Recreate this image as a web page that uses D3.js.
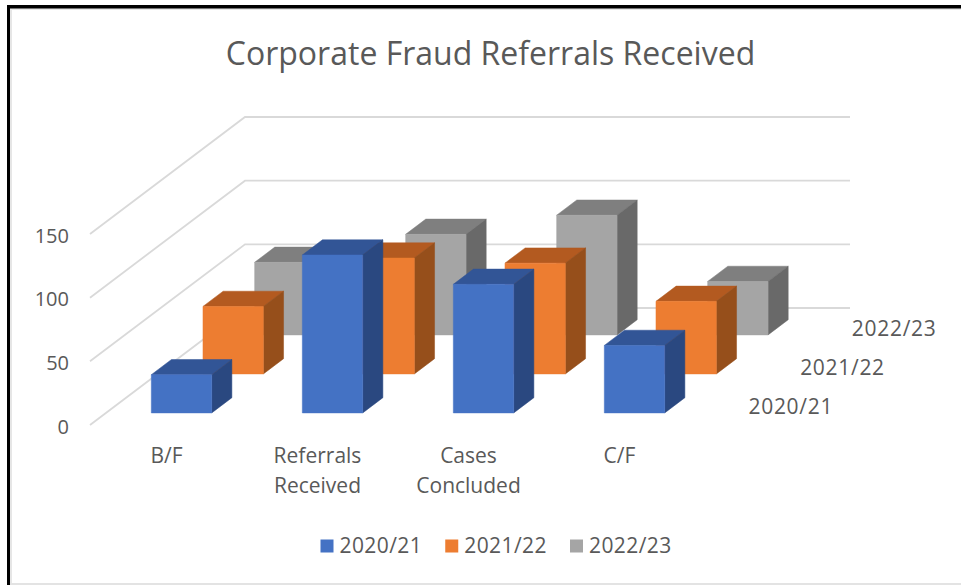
<!DOCTYPE html>
<html>
<head>
<meta charset="utf-8">
<script src="https://cdn.jsdelivr.net/npm/d3@7"></script>
<style>
  html, body { margin: 0; padding: 0; background: #fff; }
  svg { display: block; }
  text { font-family: "Open Sans", sans-serif; fill: #595959; }
</style>
</head>
<body>
<div id="chart"></div>
<script>
const categories = ["B/F", "Referrals Received", "Cases Concluded", "C/F"];
const seriesNames = ["2020/21", "2021/22", "2022/23"];
const values2021 = [30, 124, 101, 53];
const values2122 = [53, 91, 87, 57];
const values2223 = [57, 79, 94, 42];
const yTicks = [0, 50, 100, 150];
const frontColors = ["#4472C4", "#ED7D31", "#A5A5A5"];
const topColors = ["#325596", "#B35A20", "#7F7F7F"];
const sideColors = ["#2A4880", "#964F1B", "#696969"];

const allValues = [values2021, values2122, values2223];

const width = 961;
const height = 585;

const svg = d3
  .select("#chart")
  .append("svg")
  .attr("width", width)
  .attr("height", height);

// Frame of the screenshot
svg.append("rect").attr("x", 10).attr("y", 8).attr("width", 951).attr("height", 2).attr("fill", "#e6e6e6");
svg.append("rect").attr("x", 10).attr("y", 8).attr("width", 2).attr("height", 577).attr("fill", "#e6e6e6");
svg.append("rect").attr("x", 10).attr("y", 583).attr("width", 951).attr("height", 2).attr("fill", "#e3e3e3");
svg.append("rect").attr("x", 7).attr("y", 5).attr("width", 954).attr("height", 3.5).attr("fill", "#000");
svg.append("rect").attr("x", 7).attr("y", 5).attr("width", 3).attr("height", 580).attr("fill", "#000");

// Oblique projection: floor origin, across, depth and value directions
const originX = 90;
const originY = 425;

const x = d3.scaleBand().domain(categories).range([0, 604]).paddingInner(0.6).paddingOuter(0.3);
const y = d3.scaleLinear().domain([0, 150]).range([0, 191]);
const depthX = d3.scaleLinear().domain([0, 3]).range([0, 155]);
const depthY = d3.scaleLinear().domain([0, 3]).range([0, 117]);

const barDepth = 0.39;
const depthStart = 0.31;

function project(across, depth, value) {
  return [
    originX + across + depthX(depth),
    originY - depthY(depth) - y(value),
  ];
}

const line = d3.line();

// Gridlines: side wall then back wall
svg
  .append("g")
  .selectAll("path")
  .data(yTicks)
  .enter()
  .append("path")
  .attr("d", (d) =>
    line([project(0, 0, d), project(0, 3, d), project(605, 3, d)])
  )
  .attr("fill", "none")
  .attr("stroke", "#D9D9D9")
  .attr("stroke-width", 1.8);

// Bars, painted from the back series to the front one
const bars = svg.append("g");
d3.range(seriesNames.length - 1, -1, -1).forEach((s) => {
  categories.forEach((cat, c) => {
    const v = allValues[s][c];
    const x0 = x(cat);
    const x1 = x0 + x.bandwidth();
    const z0 = s + depthStart;
    const z1 = z0 + barDepth;
    const g = bars.append("g");
    g.append("path")
      .attr("d", line([project(x0, z0, v), project(x1, z0, v), project(x1, z1, v), project(x0, z1, v)]) + "Z")
      .attr("fill", topColors[s])
      .attr("stroke", topColors[s])
      .attr("stroke-width", 0.5);
    g.append("path")
      .attr("d", line([project(x1, z0, 0), project(x1, z1, 0), project(x1, z1, v), project(x1, z0, v)]) + "Z")
      .attr("fill", sideColors[s])
      .attr("stroke", sideColors[s])
      .attr("stroke-width", 0.5);
    g.append("path")
      .attr("d", line([project(x0, z0, 0), project(x1, z0, 0), project(x1, z0, v), project(x0, z0, v)]) + "Z")
      .attr("fill", frontColors[s])
      .attr("stroke", frontColors[s])
      .attr("stroke-width", 0.5);
  });
});

// Value axis labels
svg
  .append("g")
  .selectAll("text")
  .data(yTicks)
  .enter()
  .append("text")
  .attr("x", 69)
  .attr("y", (d) => project(0, 0, d)[1] + 1.5)
  .attr("dy", "0.35em")
  .attr("text-anchor", "end")
  .attr("font-size", 20)
  .text((d) => d);

// Category labels, split on the space like the original
svg
  .append("g")
  .selectAll("text")
  .data(categories)
  .enter()
  .append("text")
  .attr("y", 463)
  .attr("text-anchor", "middle")
  .attr("font-size", 21)
  .each(function (d) {
    const cx = originX + x(d) + x.bandwidth() / 2 + 1;
    d3.select(this)
      .selectAll("tspan")
      .data(d.split(" "))
      .enter()
      .append("tspan")
      .attr("x", cx)
      .attr("dy", (t, i) => (i ? 29.5 : 0))
      .text((t) => t);
  });

// Series labels along the depth axis
svg
  .append("g")
  .selectAll("text")
  .data(seriesNames)
  .enter()
  .append("text")
  .attr("x", (d, i) => 748.5 + depthX(i))
  .attr("y", (d, i) => 414 - depthY(i))
  .attr("font-size", 21)
  .attr("letter-spacing", 0.7)
  .text((d) => d);

// Legend
const legendX = d3.scalePoint().domain(seriesNames).range([320.5, 570]);
const legend = svg
  .append("g")
  .selectAll("g")
  .data(seriesNames)
  .enter()
  .append("g")
  .attr("transform", (d) => `translate(${legendX(d)},546)`);

legend
  .append("rect")
  .attr("y", -6.5)
  .attr("width", 13)
  .attr("height", 13)
  .attr("fill", (d, i) => frontColors[i]);

legend
  .append("text")
  .attr("x", 19)
  .attr("dy", "0.35em")
  .attr("font-size", 21)
  .attr("letter-spacing", 0.4)
  .text((d) => d);

// Title
svg
  .append("text")
  .attr("x", 490.5)
  .attr("y", 65)
  .attr("text-anchor", "middle")
  .attr("font-size", 32)
  .text("Corporate Fraud Referrals Received");
</script>
</body>
</html>
